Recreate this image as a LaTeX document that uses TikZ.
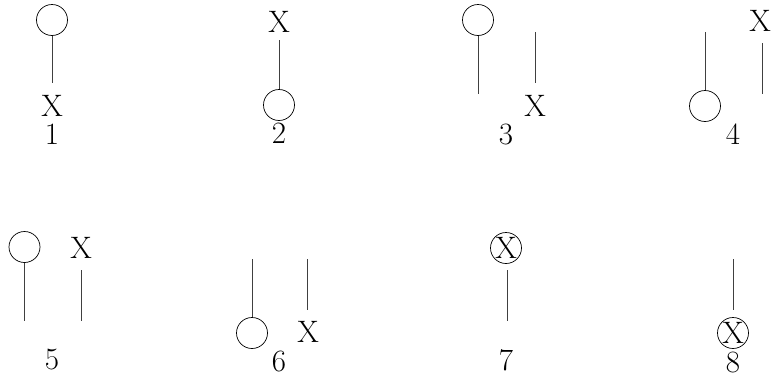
\documentclass[tikz,border=0pt]{standalone}
\begin{document}
\begin{tikzpicture}[x=1pt,y=-1pt,
  ball/.style={draw=black,line width=0.7pt,circle,minimum size=31pt,inner sep=0pt},
  lab/.style={inner sep=0pt,font=\fontsize{31}{31}\selectfont},
  stick/.style={draw=black!75,line width=0.9pt}]
\useasboundingbox (0,0) rectangle (772,378);
% 1
\node[ball] (c1) at (52,20) {};
\coordinate (e1) at (52,83);
\node[lab] (x1) at (52,106) {X};
\node[lab] (n1) at (52,134) {1};
\draw[stick] (c1.south) -- (e1);
% 2
\node[lab] (x2) at (279,22) {X};
\coordinate (s2) at (279,40);
\node[ball] (c2) at (279,105) {};
\node[lab] (n2) at (279,133) {2};
\draw[stick] (s2) -- (c2.north);
% 3
\node[ball] (c3) at (478,20) {};
\coordinate (e3) at (478,94);
\coordinate (s3a) at (535,32);
\coordinate (s3b) at (535,83);
\node[lab] (x3) at (535,106) {X};
\node[lab] (n3) at (506,134) {3};
\draw[stick] (c3.south) -- (e3);
\draw[stick] (s3a) -- (s3b);
% 4
\coordinate (s4) at (705,32);
\node[ball] (c4) at (705,106) {};
\node[lab] (n4) at (733,134) {4};
\node[lab] (x4) at (760,21) {X};
\coordinate (s4a) at (762,43);
\coordinate (s4b) at (762,94);
\draw[stick] (s4) -- (c4.north);
\draw[stick] (s4a) -- (s4b);
% 5
\node[ball] (c5) at (24.5,247) {};
\coordinate (e5) at (24.5,321);
\node[lab] (x5) at (81,248) {X};
\coordinate (s5a) at (81,270);
\coordinate (s5b) at (81,321);
\node[lab] (n5) at (52,360) {5};
\draw[stick] (c5.south) -- (e5);
\draw[stick] (s5a) -- (s5b);
% 6
\coordinate (s6) at (252,259);
\node[ball] (c6) at (252,333) {};
\coordinate (s6a) at (307,259);
\coordinate (s6b) at (307,310);
\node[lab] (x6) at (308,332) {X};
\node[lab] (n6) at (279,361) {6};
\draw[stick] (s6) -- (c6.north);
\draw[stick] (s6a) -- (s6b);
% 7
\node[ball,lab] (c7) at (506,248) {X};
\coordinate (e7a) at (507,270);
\coordinate (e7b) at (507,321);
\node[lab] (n7) at (506,360) {7};
\draw[stick] (e7a) -- (e7b);
% 8
\coordinate (s8) at (733,259);
\coordinate (e8) at (733,310);
\node[ball,lab] (c8) at (733,333) {X};
\node[lab] (n8) at (733,362) {8};
\draw[stick] (s8) -- (e8);
\end{tikzpicture}
\end{document}
